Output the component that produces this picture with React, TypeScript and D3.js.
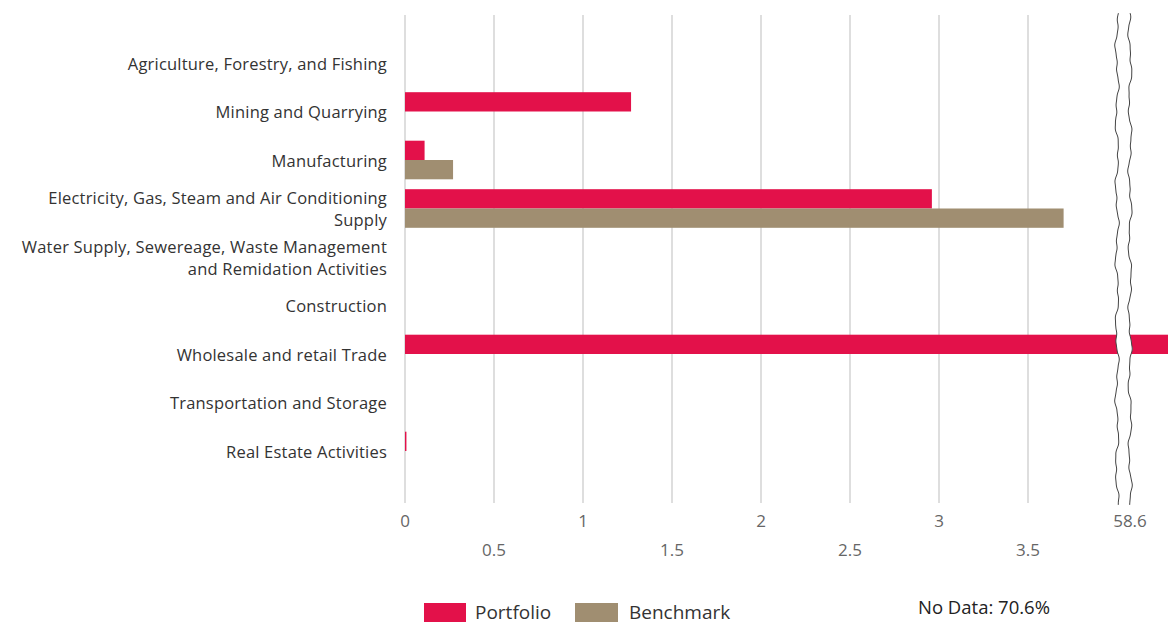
import React from "react";
import * as d3 from "d3";

const categories = [
  "Agriculture, Forestry, and Fishing",
  "Mining and Quarrying",
  "Manufacturing",
  "Electricity, Gas, Steam and Air Conditioning\nSupply",
  "Water Supply, Sewereage, Waste Management\nand Remidation Activities",
  "Construction",
  "Wholesale and retail Trade",
  "Transportation and Storage",
  "Real Estate Activities",
];
const portfolio = [0, 1.27, 0.11, 2.96, 0, 0, 60.0, 0, 0.008];
const benchmark = [0, 0, 0.27, 3.7, 0, 0, 0, 0, 0];
const majorTicks = [0, 1, 2, 3];
const minorTicks = [0.5, 1.5, 2.5, 3.5];
const breakStart = 4;
const breakEnd = 58.6;
const breakLabel = "58.6";
const seriesNames = ["Portfolio", "Benchmark"];
const noDataText = "No Data: 70.6%";

const W = 1168;
const H = 622;
const PINK = "#E3114A";
const TAN = "#A08E71";
const FONT = "'Open Sans', 'Noto Sans', sans-serif";

export default function App() {
  const x0 = 405;
  const unit = 178;
  const xA = d3.scaleLinear().domain([0, breakStart]).range([x0, x0 + unit * breakStart]);
  const gapL = xA(breakStart);
  const gapR = gapL + 12;
  const xB = d3.scaleLinear().domain([breakEnd, breakEnd + 1]).range([gapR, gapR + unit]);
  const xv = (v: number) => (v <= breakStart ? xA(v) : xB(v));

  const y = d3
    .scaleBand<string>()
    .domain(categories)
    .range([38.75, 475.25])
    .paddingInner(0.2)
    .paddingOuter(0.1);
  const barH = 19.3;

  const gridTop = 15;
  const gridBottom = 503;

  const wavy = (cx: number, phase: number) => {
    const pts: [number, number][] = [];
    for (let yy = 13; yy <= 505; yy += 4) {
      const dx =
        1.4 * Math.sin(yy * 0.09 + phase) +
        0.9 * Math.sin(yy * 0.23 + phase * 2) +
        0.5 * Math.sin(yy * 0.51 + phase * 3);
      pts.push([cx + dx, yy]);
    }
    return pts;
  };
  const lineGen = d3.line().curve(d3.curveBasis);
  const leftPts = wavy(gapL, 0.3);
  const rightPts = wavy(gapR + 1, 1.7);
  const areaPath =
    (lineGen(leftPts) || "") +
    "L" +
    rightPts
      .slice()
      .reverse()
      .map((p) => p.join(","))
      .join("L") +
    "Z";

  const bars: React.ReactNode[] = [];
  categories.forEach((c, i) => {
    const center = (y(c) as number) + y.bandwidth() / 2;
    const series = [portfolio[i], benchmark[i]];
    series.forEach((v, j) => {
      if (v <= 0) return;
      const top = center - barH + j * barH;
      const color = j === 0 ? PINK : TAN;
      if (v <= breakStart) {
        bars.push(
          <rect key={`b${i}-${j}`} x={xA(0)} y={top} width={Math.max(1, xA(v) - xA(0))} height={barH} fill={color} />
        );
      } else {
        bars.push(
          <rect key={`b${i}-${j}a`} x={xA(0)} y={top} width={gapL + 1 - xA(0)} height={barH} fill={color} />
        );
        bars.push(
          <rect key={`b${i}-${j}b`} x={gapR} y={top} width={xv(v) - gapR} height={barH} fill={color} />
        );
      }
    });
  });

  return (
    <svg
      width={W}
      height={H}
      style={{ position: "absolute", left: 0, top: 0, background: "#fff" }}
      fontFamily={FONT}
    >
      {[...majorTicks, ...minorTicks].map((t) => (
        <line key={`g${t}`} x1={xA(t)} x2={xA(t)} y1={gridTop} y2={gridBottom} stroke="#dedede" strokeWidth={2} />
      ))}
      <line x1={(gapL + gapR) / 2} x2={(gapL + gapR) / 2} y1={gridTop} y2={gridBottom} stroke="#dedede" strokeWidth={2} />
      {bars}
      <path d={areaPath} fill="#fff" stroke="none" />
      <path d={lineGen(leftPts) || ""} fill="none" stroke="#444" strokeWidth={1} />
      <path d={lineGen(rightPts) || ""} fill="none" stroke="#444" strokeWidth={1} />

      {categories.map((c) => {
        const center = (y(c) as number) + y.bandwidth() / 2 + 1;
        const lines = c.split("\n");
        const lh = 22;
        return (
          <text key={c} x={387} textAnchor="end" fontSize={16.5} letterSpacing={0.2} fill="#333">
            {lines.map((ln, k) => (
              <tspan key={k} x={387} y={center + (k - (lines.length - 1) / 2) * lh} dy="0.35em">
                {ln}
              </tspan>
            ))}
          </text>
        );
      })}

      {majorTicks.map((t) => (
        <text key={`t${t}`} x={xA(t)} y={521} dy="0.35em" textAnchor="middle" fontSize={17} fill="#666">
          {d3.format("")(t)}
        </text>
      ))}
      {minorTicks.map((t) => (
        <text key={`m${t}`} x={xA(t)} y={550} dy="0.35em" textAnchor="middle" fontSize={17} fill="#666">
          {String(t)}
        </text>
      ))}
      <text x={gapR + 1} y={521} dy="0.35em" textAnchor="middle" fontSize={17} fill="#666">
        {breakLabel}
      </text>

      <rect x={424} y={603} width={42} height={20} fill={PINK} />
      <text x={475} y={612} dy="0.35em" fontSize={19} fill="#333">
        {seriesNames[0]}
      </text>
      <rect x={575} y={603} width={43} height={20} fill={TAN} />
      <text x={629} y={612} dy="0.35em" fontSize={19} fill="#333">
        {seriesNames[1]}
      </text>
      <text x={918} y={608} dy="0.35em" fontSize={18.5} fill="#222">
        {noDataText}
      </text>
    </svg>
  );
}
